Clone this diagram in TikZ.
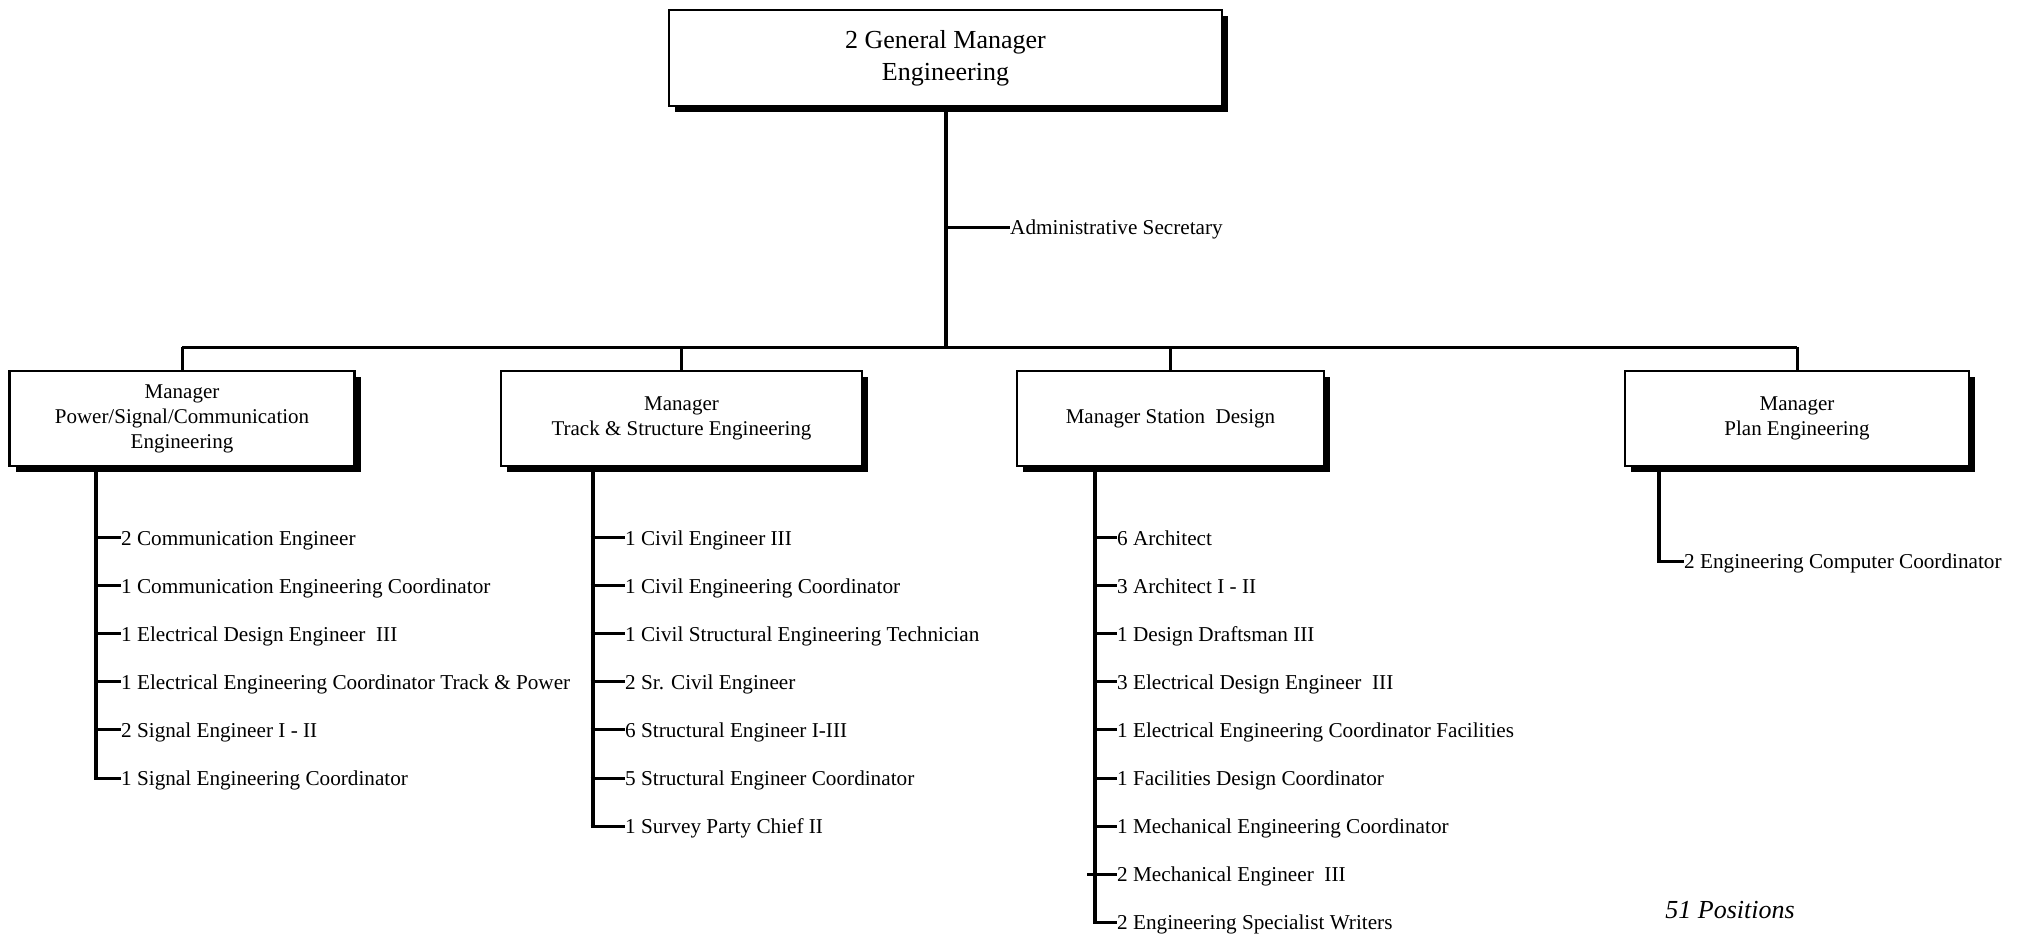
\documentclass[tikz,border=0pt]{standalone}
\usepackage{fontspec}
\setmainfont{Liberation Serif}
\usetikzlibrary{shadows}
\begin{document}
\begin{tikzpicture}[x=1pt,y=-1pt,
  mgr/.style={draw=black, line width=2.5pt, fill=white, minimum height=95pt, align=center,
    font=\fontsize{21}{25}\selectfont, inner sep=0pt,
    drop shadow={shadow xshift=6pt, shadow yshift=-6pt, fill=black, opacity=1}},
  item/.style={anchor=west, inner sep=0pt, text height=16pt, text depth=1pt, font=\fontsize{21.2}{25}\selectfont},
  trunk/.style={line width=4pt},
  tick/.style={line width=3pt},
  bus/.style={line width=3pt}]
\useasboundingbox (0,0) rectangle (2021,935);

% boxes
\node[mgr, minimum width=553pt, minimum height=96pt, font=\fontsize{26}{32}\selectfont] (gm) at (945.5,58) {2 General Manager\\Engineering};
\node[mgr, minimum width=345pt] (m1) at (182,418.5) {Manager\\Power/Signal/Communication\\Engineering};
\node[mgr, minimum width=361pt] (m2) at (681.5,418.5) {Manager\\Track \& Structure Engineering};
\node[mgr, minimum width=307pt] (m3) at (1170.5,418.5) {Manager Station~~Design};
\node[mgr, minimum width=344pt] (m4) at (1797,418.5) {Manager\\Plan Engineering};

% bus
\coordinate (busL) at (182,347);
\coordinate (busR) at (1797,347);
\draw[trunk] (gm.south) -- (gm.south |- busL);
\draw[bus] (busL) -- (busR);
\draw[bus] (m1.north) -- (busL);
\draw[bus] (m2.north) -- (m2.north |- busL);
\draw[bus] (m3.north) -- (m3.north |- busL);
\draw[bus] (m4.north) -- (busR);

% admin
\node[item] (adm) at (1010,227) {Administrative Secretary};
\draw[tick] (gm.south |- adm.west) -- (adm.west);

% trunk x coordinates
\coordinate (x1) at (96,0);
\coordinate (x2) at (592.5,0);
\coordinate (x3) at (1095,0);
\coordinate (x4) at (1659,0);

% column 1
\node[item] (p1) at (121,537.5) {2 Communication Engineer};
\node[item] (p2) at (121,585.6) {1 Communication Engineering Coordinator};
\node[item] (p3) at (121,633.7) {1 Electrical Design Engineer~~III};
\node[item] (p4) at (121,681.8) {1 Electrical Engineering Coordinator Track \& Power};
\node[item] (p5) at (121,729.9) {2 Signal Engineer I - II};
\node[item] (p6) at (121,778.0) {1 Signal Engineering Coordinator};
\draw[trunk] (x1 |- m1.south) -- (x1 |- p6.west);
\foreach \n in {p1,p2,p3,p4,p5,p6} \draw[tick] ([xshift=-2pt]x1 |- \n.west) -- (\n.west);

% column 2
\node[item] (t1) at (625,537.5) {1 Civil Engineer III};
\node[item] (t2) at (625,585.6) {1 Civil Engineering Coordinator};
\node[item] (t3) at (625,633.7) {1 Civil Structural Engineering Technician};
\node[item] (t4) at (625,681.8) {2 Sr. Civil Engineer};
\node[item] (t5) at (625,729.9) {6 Structural Engineer I-III};
\node[item] (t6) at (625,778.0) {5 Structural Engineer Coordinator};
\node[item] (t7) at (625,826.1) {1 Survey Party Chief II};
\draw[trunk] (x2 |- m2.south) -- (x2 |- t7.west);
\foreach \n in {t1,t2,t3,t4,t5,t6,t7} \draw[tick] ([xshift=-2pt]x2 |- \n.west) -- (\n.west);

% column 3
\node[item] (s1) at (1117,537.5) {6 Architect};
\node[item] (s2) at (1117,585.6) {3 Architect I - II};
\node[item] (s3) at (1117,633.7) {1 Design Draftsman III};
\node[item] (s4) at (1117,681.8) {3 Electrical Design Engineer~~III};
\node[item] (s5) at (1117,729.9) {1 Electrical Engineering Coordinator Facilities};
\node[item] (s6) at (1117,778.0) {1 Facilities Design Coordinator};
\node[item] (s7) at (1117,826.1) {1 Mechanical Engineering Coordinator};
\node[item] (s8) at (1117,874.2) {2 Mechanical Engineer~~III};
\node[item] (s9) at (1117,922.3) {2 Engineering Specialist Writers};
\draw[trunk] (x3 |- m3.south) -- (x3 |- s9.west);
\foreach \n in {s1,s2,s3,s4,s5,s6,s7,s9} \draw[tick] ([xshift=-2pt]x3 |- \n.west) -- (\n.west);
\draw[tick] ([xshift=-8pt]x3 |- s8.west) -- (s8.west);

% column 4
\node[item] (e1) at (1684,561) {2 Engineering Computer Coordinator};
\draw[trunk] (x4 |- m4.south) -- (x4 |- e1.west);
\draw[tick] ([xshift=-2pt]x4 |- e1.west) -- (e1.west);

% total
\node[inner sep=0pt, font=\fontsize{26}{30}\selectfont\itshape] (tot) at (1730,910) {51 Positions};
\end{tikzpicture}
\end{document}
